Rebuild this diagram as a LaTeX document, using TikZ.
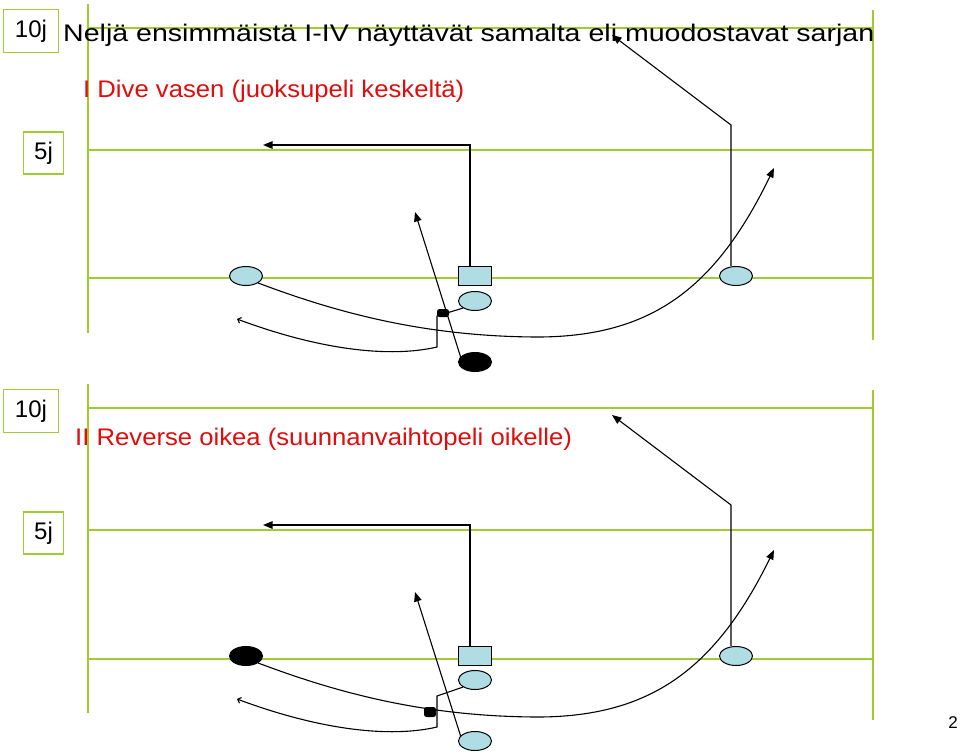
\documentclass[tikz,border=0pt]{standalone}
\usepackage{fontspec}
\setmainfont{Liberation Sans}
\newfontfamily\titlefont[FakeStretch=1.19]{Liberation Sans}
\newfontfamily\playfont[FakeStretch=1.07]{Liberation Sans}
\usetikzlibrary{arrows.meta,shapes.geometric}
\definecolor{fieldgreen}{RGB}{160,204,50}
\definecolor{playerblue}{RGB}{176,220,228}
\definecolor{titlered}{RGB}{225,12,12}
\begin{document}
\begin{tikzpicture}[x=1pt,y=-1pt,
  fline/.style={draw=fieldgreen, line width=1.6pt},
  ybox/.style={draw=fieldgreen, line width=1.3pt, inner sep=0pt, font=\fontsize{24}{24}\selectfont},
  pl/.style={ellipse, draw=black, line width=1pt, inner sep=0pt, minimum width=33pt, minimum height=19pt},
  bluepl/.style={pl, fill=playerblue},
  blackpl/.style={pl, fill=black},
  centerpl/.style={rectangle, draw=black, line width=1pt, fill=playerblue, inner sep=0pt, minimum width=33pt, minimum height=19pt},
  ballblob/.style={rectangle, rounded corners=2.5pt, fill=black, inner sep=0pt, minimum width=12pt, minimum height=8pt},
  route/.style={draw=black, line width=1.1pt},
  tip/.style={-{Triangle[length=9.5pt,width=7.5pt]}},
  hooktip/.style={-{Straight Barb[length=3pt,width=6pt]}},
  titletext/.style={anchor=base west, inner sep=0pt, font=\titlefont\fontsize{24}{28}\selectfont},
  playtext/.style={anchor=base west, inner sep=0pt, text=titlered, font=\playfont\fontsize{24}{28}\selectfont},
]
\useasboundingbox (0,0) rectangle (960,753);

% ---------- top half ----------
\draw[fline] (88,4) -- (88,333);
\draw[fline] (873,10) -- (873,340);
\draw[fline] (88,28) -- (873,28);
\draw[fline] (88,150) -- (873,150);
\draw[fline] (88,278) -- (873,278);
\node[ybox, minimum width=55pt, minimum height=43pt] (b10a) at (31,31) {10j};
\node[ybox, minimum width=40pt, minimum height=42pt] (b5a) at (43.5,153) {5j};
\node[titletext] (title) at (63,41) {Neljä ensimmäistä I-IV näyttävät samalta eli muodostavat sarjan};
\node[playtext] (play1) at (83,97) {I Dive vasen (juoksupeli keskeltä)};

\node[bluepl] (L1) at (246,276) {};
\node[centerpl] (C1) at (475,276) {};
\node[bluepl] (B1) at (475,301) {};
\node[blackpl] (Q1) at (475,362) {};
\node[bluepl] (R1) at (736,276) {};

\coordinate (c1tip) at (263,145);
\coordinate (r1brk) at (731,125);
\coordinate (r1tip) at (612,35);
\coordinate (q1tip) at (415,212);
\coordinate (l1mid) at (540,337);
\coordinate (l1tip) at (774,168);
\coordinate (b1a) at (437,316);
\coordinate (b1b) at (437,347);
\coordinate (b1tip) at (237,319);

\draw[route, tip] ([xshift=-5pt]C1.north) |- (c1tip);
\draw[route, tip] ([xshift=-5pt]R1.north) -- (r1brk) -- (r1tip);
\draw[route, tip] (Q1.160) -- (q1tip);
\draw[route, tip] (L1.-30) .. controls (330,310) and (420,337) .. (l1mid)
   .. controls (650,336) and (715,290) .. (l1tip);
\draw[route, hooktip] (B1.south west) -- (b1a) -- (b1b)
   .. controls (390,358) and (320,350) .. (b1tip);
\node[ballblob] (ball1) at (443,313) {};

% ---------- bottom half ----------
\begin{scope}[shift={(0,380)}]
\draw[fline] (88,4) -- (88,333);
\draw[fline] (873,10) -- (873,340);
\draw[fline] (88,28) -- (873,28);
\draw[fline] (88,150) -- (873,150);
\draw[fline] (88,279) -- (873,279);
\node[ybox, minimum width=55pt, minimum height=43pt] (b10b) at (31,31) {10j};
\node[ybox, minimum width=40pt, minimum height=42pt] (b5b) at (43.5,153) {5j};
\node[playtext] (play2) at (75,65) {II Reverse oikea (suunnanvaihtopeli oikelle)};

\node[blackpl] (L2) at (246,276) {};
\node[centerpl] (C2) at (475,276) {};
\node[bluepl] (B2) at (475,300) {};
\node[bluepl] (Q2) at (475,361) {};
\node[bluepl] (R2) at (736,276) {};

\coordinate (c2tip) at (263,145);
\coordinate (r2brk) at (731,125);
\coordinate (r2tip) at (612,35);
\coordinate (q2tip) at (415,212);
\coordinate (l2mid) at (540,337);
\coordinate (l2tip) at (774,170);
\coordinate (b2a) at (437,316);
\coordinate (b2b) at (437,347);
\coordinate (b2tip) at (237,319);

\draw[route, tip] ([xshift=-5pt]C2.north) |- (c2tip);
\draw[route, tip] ([xshift=-5pt]R2.north) -- (r2brk) -- (r2tip);
\draw[route, tip] (Q2.160) -- (q2tip);
\draw[route, tip] (L2.-30) .. controls (330,310) and (420,337) .. (l2mid)
   .. controls (650,336) and (715,290) .. (l2tip);
\draw[route, hooktip] (B2.south west) -- (b2a) -- (b2b)
   .. controls (390,358) and (320,350) .. (b2tip);
\node[ballblob, minimum height=10pt] (ball2) at (430,332) {};
\end{scope}

\node[anchor=base east, inner sep=0pt, font=\fontsize{17}{20}\selectfont] (pg) at (958,728) {2};
\end{tikzpicture}
\end{document}
